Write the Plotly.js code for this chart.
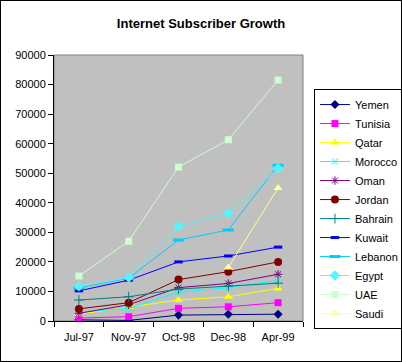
<!DOCTYPE html>
<html>
<head>
<meta charset="utf-8">
<script src="https://cdn.plot.ly/plotly-3.0.1.min.js"></script>
<style>
html,body{margin:0;padding:0;background:#fff;}
#chart{position:absolute;left:0;top:0;width:402px;height:362px;}
#frame{position:absolute;left:0;top:0;width:402px;height:362px;box-sizing:border-box;border:1px solid #000;pointer-events:none;z-index:10;}
</style>
</head>
<body>
<div id="chart"></div>
<div id="frame"></div>
<script>
const categories = ["Jul-97", "Nov-97", "Oct-98", "Dec-98", "Apr-99"];
const yemen   = [400, 200, 2000, 2260, 2300];
const tunisia = [1000, 1450, 4300, 4800, 6200];
const qatar   = [2300, 4700, 7100, 8200, 11000];
const morocco = [3000, 4300, 9700, 11300, 13700];
const oman    = [2600, 5500, 11300, 12700, 15800];
const jordan  = [4100, 6200, 14000, 16700, 20000];
const bahrain = [7100, 8200, 10800, 11800, 12800];
const kuwait  = [10200, 13800, 20000, 22000, 25000];
const lebanon = [11200, 14500, 27400, 30800, 52700];
const egypt   = [11700, 14700, 32000, 36400, 51600];
const uae     = [15200, 27000, 52100, 61300, 81500];
const saudi   = [null, null, null, 18100, 45000];

const seriesNames = ["Yemen","Tunisia","Qatar","Morocco","Oman","Jordan","Bahrain","Kuwait","Lebanon","Egypt","UAE","Saudi"];
const seriesData = [yemen,tunisia,qatar,morocco,oman,jordan,bahrain,kuwait,lebanon,egypt,uae,saudi];
const colors = ["#000080","#FF00FF","#FFFF00","#00FFFF","#800080","#800000","#008080","#0000FF","#00CCFF","#55F5FF","#CCFFCC","#FFFF99"];
const symbols = ["diamond","square","triangle-up","x-thin-open","asterisk-open","circle","cross-thin-open","line-ew-open","line-ew-open","diamond","square","triangle-up"];
const sizes = [7,7,8,6,7,8,7,6,8,8,7,8];

const traces = seriesNames.map((n,i)=>{
  const openSym = symbols[i].indexOf("open")>=0;
  return {
    type:"scatter", mode:"lines+markers", name:n,
    x:categories, y:seriesData[i],
    line:{color:colors[i], width:1},
    marker:{symbol:symbols[i], size:sizes[i], color:colors[i],
            line:{color:colors[i], width: openSym ? (symbols[i].startsWith("line") ? 3 : 1) : 0}},
    connectgaps:false
  };
});

const layout = {
  width:402, height:362,
  margin:{l:54, r:99, t:55, b:41, autoexpand:false},
  paper_bgcolor:"#ffffff",
  plot_bgcolor:"#C0C0C0",
  font:{family:"Arial, 'Liberation Sans', sans-serif", size:11, color:"#000"},
  title:{text:"<b>Internet Subscriber Growth</b>", xref:"container", x:0.5, xanchor:"center",
         yref:"container", y:0.934, yanchor:"middle", font:{size:13, color:"#000"}},
  showlegend:true,
  legend:{x:1.044, xanchor:"left", y:0.872, yanchor:"top", bgcolor:"#fff",
          bordercolor:"#000", borderwidth:1, font:{size:11}, itemwidth:30,
          traceorder:"normal", tracegroupgap:0},
  xaxis:{type:"category", range:[-0.5,4.5], showgrid:false, zeroline:false,
         showline:true, linecolor:"#000", linewidth:1, ticks:"outside", ticklen:5,
         tickcolor:"#000", tickson:"boundaries", ticklabelstandoff:6, fixedrange:true},
  yaxis:{range:[0,90000], dtick:10000, showgrid:false, zeroline:false,
         showline:true, linecolor:"#000", linewidth:1, ticks:"outside", ticklen:5,
         tickcolor:"#000", tickformat:"d", fixedrange:true},
  shapes:[{type:"rect", xref:"paper", yref:"paper", x0:0, x1:1, y0:0, y1:1,
           line:{color:"#808080", width:1}, layer:"below"}]
};

Plotly.newPlot("chart", traces, layout, {displayModeBar:false, staticPlot:true});
</script>
</body>
</html>
